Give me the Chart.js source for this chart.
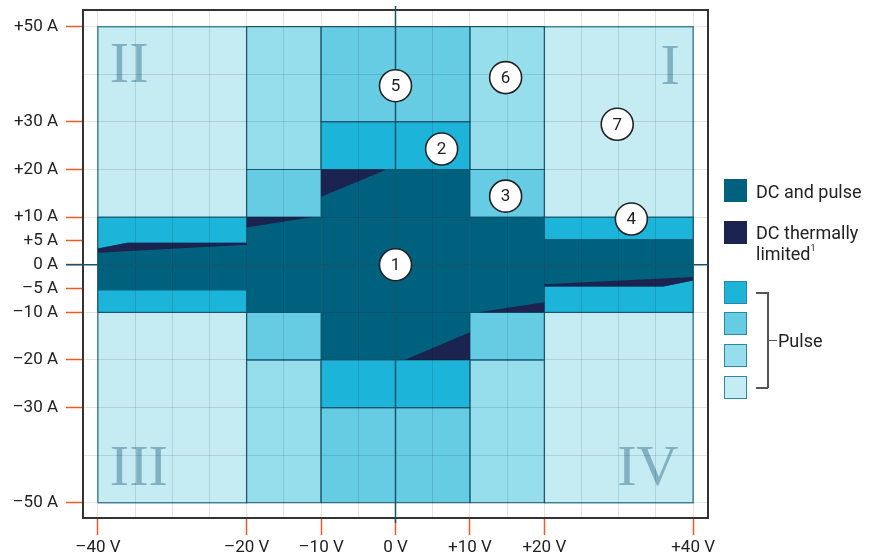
<!DOCTYPE html>
<html><head><meta charset="utf-8">
<script src="https://cdn.jsdelivr.net/npm/chart.js@4"></script>
<style>
html,body{margin:0;padding:0;background:#fff;}
#wrap{position:relative;width:869px;height:558px;overflow:hidden;}
#c{position:absolute;left:0;top:0;}
.lg{position:absolute;font-family:Roboto,sans-serif;font-size:18px;color:#222;line-height:21px;white-space:nowrap;}
.sq{position:absolute;left:724px;width:23px;height:23px;box-sizing:border-box;}
.br{position:absolute;background:#555;}
sup{font-size:9px;line-height:0;vertical-align:9px;}
</style></head><body>
<div id="wrap">
<canvas id="c" width="869" height="558"></canvas>
<div class="sq" style="top:179px;background:#00617f;"></div>
<div class="lg" style="left:756px;top:181px;">DC and pulse</div>
<div class="sq" style="top:221px;background:#1b2350;"></div>
<div class="lg" style="left:756px;top:222px;">DC thermally<br>limited<sup>1</sup></div>
<div class="sq" style="top:281px;background:#1cb4d8;border:1.5px solid #2a89a8;"></div>
<div class="sq" style="top:312px;background:#66cce3;border:1.5px solid #2a89a8;"></div>
<div class="sq" style="top:344px;background:#97deed;border:1.5px solid #2a89a8;"></div>
<div class="sq" style="top:376px;background:#c5ebf3;border:1.5px solid #2a89a8;"></div>
<div class="br" style="left:767px;top:292px;width:1.5px;height:96px;"></div>
<div class="br" style="left:756px;top:292px;width:12px;height:1.5px;"></div>
<div class="br" style="left:756px;top:387px;width:12px;height:1.5px;"></div>
<div class="br" style="left:767px;top:339.5px;width:10px;height:1.5px;"></div>
<div class="lg" style="left:778px;top:330px;">Pulse</div>
</div>
<script>
// ---- axis ticks ----
const xTicks = [-40,-35,-30,-25,-20,-15,-10,-5,0,5,10,15,20,25,30,35,40];
const xLabelled = [-40,-20,-10,0,10,20,40];
const yTicks = [-50,-40,-30,-20,-10,-5,0,5,10,20,30,40,50];
const yLabelled = [-50,-30,-20,-10,-5,0,5,10,20,30,50];
const yNoGrid = [-5,0,5];

// ---- regions, rectangles as [xMin, xMax, yMin, yMax] (V, A) ----
const pulseLightest = [[-40,-20,-50,50],[20,40,-50,50]];
const pulseLight = [[-20,-10,20,50],[-20,-10,-50,-20],[10,20,20,50],[10,20,-50,-20]];
const pulseMedium = [[-10,10,30,50],[-10,10,-50,-30],[-20,-10,10,20],[-20,-10,-20,-10],[10,20,10,20],[10,20,-20,-10]];
const pulseBright = [[-10,10,20,30],[-10,10,-30,-20],[-40,-20,-10,10],[20,40,-10,10]];
const dcRects = [[-10,10,-20,20],[-20,-10,-10,10],[10,20,-10,10]];
// polygons as [V, A] vertices
const dcBandLeft = [[-40,3.4],[-36,4.6],[-20,4.6],[-20,-5.4],[-40,-5.4]];
const dcBandRight = [[20,5.4],[40,5.4],[40,-3.3],[36,-4.6],[20,-4.6]];
const limitedPolys = [
  [[-40,3.4],[-36,4.6],[-20,4.6],[-20,4.2],[-40,2.5]],
  [[20,-4.1],[40,-2.6],[40,-3.3],[36,-4.6],[20,-4.6]],
  [[-10,20],[-1.2,20],[-10,14.3]],
  [[1.2,-20],[10,-20],[10,-14.2]],
  [[-20,10],[-11.1,10],[-20,7.8]],
  [[20,-10],[11.1,-10],[20,-7.9]]
];

// ---- annotations ----
const markerLabels = ['1','2','3','4','5','6','7'];
const markerX = [0,6.2,14.8,31.7,0,14.8,29.8];
const markerY = [0,24.3,14.4,9.6,37.6,39.3,29.5];
const quadrantLabels = ['I','II','III','IV'];
const quadrantX = [36.9,-35.8,-34.5,33.9];
const quadrantY = [41.9,42.3,-42.3,-42.3];

const ORANGE = '#ef5a24';
const FONT = 'Roboto, sans-serif';

function rectPts(r){ const [x0,x1,y0,y1]=r; return [{x:x0,y:y0},{x:x1,y:y0},{x:x1,y:y1},{x:x0,y:y1},{x:x0,y:y0}]; }
function polyPts(p){ const pts=p.map(([x,y])=>({x,y})); pts.push({x:p[0][0],y:p[0][1]}); return pts; }

const layers = []; // bottom -> top
function addSet(pts, fillColor, borderColor, bw){
  layers.push({data:pts, backgroundColor:fillColor, borderColor:borderColor, borderWidth:bw,
    fill:'shape', pointRadius:0, pointHoverRadius:0, tension:0, borderJoinStyle:'miter'});
}
pulseLightest.forEach(r=>addSet(rectPts(r),'#c5ebf3','#4a8ea5',1.5));
pulseLight.forEach(r=>addSet(rectPts(r),'#97deed','#1f5f77',1.2));
pulseMedium.forEach(r=>addSet(rectPts(r),'#66cce3','#1f5f77',1.2));
pulseBright.forEach(r=>addSet(rectPts(r),'#1cb4d8','#1f5f77',1.2));
dcRects.forEach(r=>addSet(rectPts(r),'#00617f','#00617f',0));
addSet(polyPts(dcBandLeft),'#00617f','#00617f',0);
addSet(polyPts(dcBandRight),'#00617f','#00617f',0);
limitedPolys.forEach(p=>addSet(polyPts(p),'#1b2350','#1b2350',0));
const N = layers.length;
layers.forEach((d,i)=>{ d.order = N - i; });

function signed(v){ return v>0 ? '+'+v : (v<0 ? '\u2013'+(-v) : '0'); }

const overlay = {
  id:'overlay',
  afterDatasetsDraw(chart){
    const {ctx, scales:{x,y}} = chart;
    ctx.save();
    ctx.font = '58px "Liberation Serif", "DejaVu Serif", serif';
    ctx.fillStyle = '#80b1c2';
    ctx.textAlign = 'center'; ctx.textBaseline = 'alphabetic';
    quadrantLabels.forEach((t,i)=>{
      ctx.fillText(t, x.getPixelForValue(quadrantX[i]), y.getPixelForValue(quadrantY[i]) + 19);
    });
    ctx.restore();
  },
  afterDraw(chart){
    const {ctx, chartArea:a, scales:{x,y}} = chart;
    ctx.save();
    ctx.strokeStyle = '#333'; ctx.lineWidth = 2;
    ctx.strokeRect(a.left, a.top, a.right-a.left, a.bottom-a.top);
    const x0 = x.getPixelForValue(0), y0 = y.getPixelForValue(0);
    ctx.strokeStyle = '#14566d'; ctx.lineWidth = 1.5;
    ctx.beginPath();
    ctx.moveTo(x0, a.top-4); ctx.lineTo(x0, a.bottom+5);
    ctx.moveTo(a.left-17, y0); ctx.lineTo(a.right, y0);
    ctx.stroke();
    ctx.font = '17px ' + FONT;
    ctx.textAlign = 'center'; ctx.textBaseline = 'middle';
    markerLabels.forEach((t,i)=>{
      const px = x.getPixelForValue(markerX[i]), py = y.getPixelForValue(markerY[i]);
      ctx.beginPath(); ctx.arc(px, py, 16, 0, Math.PI*2);
      ctx.fillStyle = '#fff'; ctx.fill();
      ctx.lineWidth = 1.6; ctx.strokeStyle = '#222'; ctx.stroke();
      ctx.fillStyle = '#222'; ctx.fillText(t, px, py+1);
    });
    ctx.restore();
  }
};

function noPad(s){ s.paddingTop = 0; s.paddingBottom = 0; s.paddingLeft = 0; s.paddingRight = 0; }

new Chart(document.getElementById('c'), {
  type:'line',
  data:{ datasets: layers },
  options:{
    responsive:false, animation:false, devicePixelRatio:1,
    layout:{ padding:{ left:0, top:10, right:161, bottom:0 } },
    plugins:{ legend:{display:false}, tooltip:{enabled:false} },
    events:[],
    scales:{
      x:{
        type:'linear', min:-42, max:42,
        afterBuildTicks: s => { s.ticks = xTicks.map(v=>({value:v})); },
        afterFit: s => { s.height = 40; noPad(s); },
        border:{ display:false },
        grid:{ z:1, drawTicks:true, tickLength:17, tickWidth:1.5, lineWidth:1,
          color: c => (c.tick && c.tick.value===0) ? 'rgba(0,0,0,0)' : 'rgba(0,0,0,0.11)',
          tickColor: c => (c.tick && xLabelled.includes(c.tick.value)) ? ORANGE : 'rgba(0,0,0,0)' },
        ticks:{ autoSkip:false, maxRotation:0, padding:3, color:'#222', font:{family:FONT, size:17},
          callback: v => xLabelled.includes(v) ? signed(v)+' V' : '' }
      },
      y:{
        type:'linear', min:-53.2, max:53.5,
        afterBuildTicks: s => { s.ticks = yTicks.map(v=>({value:v})); },
        afterFit: s => { s.width = 83; noPad(s); },
        border:{ display:false },
        grid:{ z:1, drawTicks:true, tickLength:17, tickWidth:1.5, lineWidth:1,
          color: c => (c.tick && yNoGrid.includes(c.tick.value)) ? 'rgba(0,0,0,0)' : 'rgba(0,0,0,0.11)',
          tickColor: c => (c.tick && yLabelled.includes(c.tick.value)) ? ORANGE : 'rgba(0,0,0,0)' },
        ticks:{ autoSkip:false, padding:8, color:'#222', font:{family:FONT, size:17},
          callback: v => yLabelled.includes(v) ? signed(v)+' A' : '' }
      }
    }
  },
  plugins:[overlay]
});
</script>
</body></html>
